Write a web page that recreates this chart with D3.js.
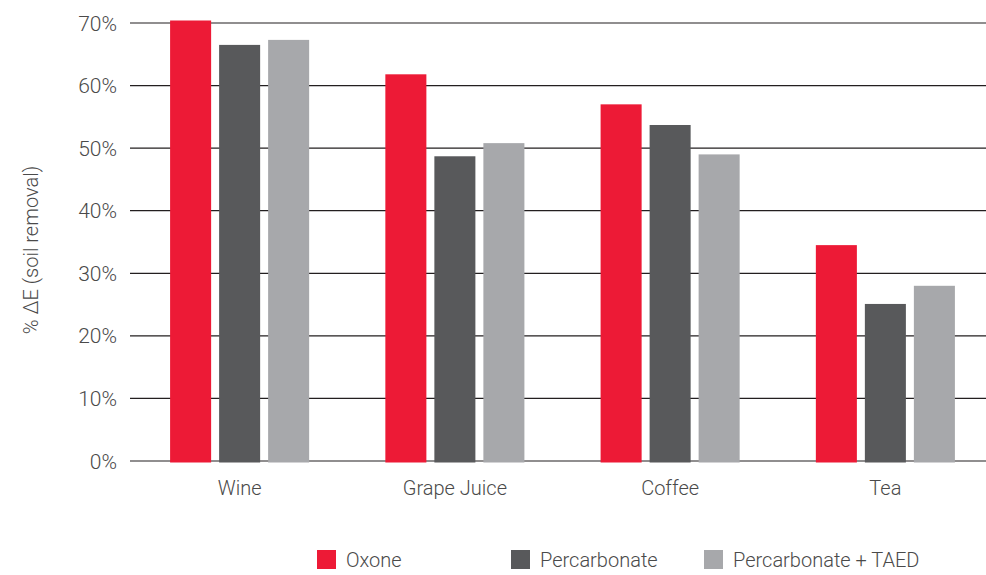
<!DOCTYPE html>
<html>
<head>
<meta charset="utf-8">
<script src="https://cdn.jsdelivr.net/npm/d3@7"></script>
<style>
  body { margin: 0; background: #fff; }
  text { font-family: Roboto, "Liberation Sans", sans-serif; font-weight: 300; fill: #4a4a4a; }
</style>
</head>
<body>
<svg id="chart" width="986" height="575"></svg>
<script>
var categories = ['Wine', 'Grape Juice', 'Coffee', 'Tea'];
var series = ['Oxone', 'Percarbonate', 'Percarbonate + TAED'];
var oxone = [70.4, 61.8, 57.0, 34.5];
var percarbonate = [66.5, 48.7, 53.7, 25.1];
var percTaed = [67.3, 50.8, 49.0, 28.0];
var yTicks = [0, 10, 20, 30, 40, 50, 60, 70];
var colors = ['#ed1a36', '#58595b', '#a7a8ab'];

var values = [oxone, percarbonate, percTaed];
var svg = d3.select('#chart');

var y = d3.scaleLinear().domain([0, 70]).range([461, 23]);
var x0 = d3.scaleBand().domain(categories).range([132, 993])
  .paddingInner(0.354).paddingOuter(0.177);
var x1 = d3.scaleBand().domain(series).range([0, x0.bandwidth()]).paddingInner(0.163);

// grid lines
svg.append('g').selectAll('line').data(yTicks).enter().append('line')
  .attr('x1', 130).attr('x2', 986)
  .attr('y1', function(d){ return y(d); }).attr('y2', function(d){ return y(d); })
  .attr('stroke', '#231f20').attr('stroke-width', 1.2);

// y tick labels
svg.append('g').selectAll('text').data(yTicks).enter().append('text')
  .attr('x', 117).attr('y', function(d){ return y(d) + 7.5; })
  .attr('text-anchor', 'end').style('font-size', '21px')
  .text(function(d){ return d + '%'; });

// bars
var groups = svg.append('g').selectAll('g').data(categories).enter().append('g')
  .attr('transform', function(d){ return 'translate(' + x0(d) + ',0)'; });
groups.selectAll('rect')
  .data(function(c, i){ return series.map(function(s, j){ return {s: s, v: values[j][i], j: j}; }); })
  .enter().append('rect')
  .attr('x', function(d){ return x1(d.s); })
  .attr('width', x1.bandwidth())
  .attr('y', function(d){ return y(d.v); })
  .attr('height', function(d){ return y(0) - y(d.v) + 1.5; })
  .attr('fill', function(d){ return colors[d.j]; });

// category labels
svg.append('g').selectAll('text').data(categories).enter().append('text')
  .attr('x', function(d){ return x0(d) + x0.bandwidth() / 2; })
  .attr('y', 495).attr('text-anchor', 'middle').style('font-size', '20px')
  .text(function(d){ return d; });

// y axis title
svg.append('text')
  .attr('transform', 'translate(38,250) rotate(-90)')
  .attr('text-anchor', 'middle').style('font-size', '20px')
  .text('% \u0394E (soil removal)');

// legend
var legendX = [317, 511, 704];
var legend = svg.append('g').selectAll('g').data(series).enter().append('g')
  .attr('transform', function(d, i){ return 'translate(' + legendX[i] + ',550)'; });
legend.append('rect').attr('width', 19).attr('height', 19)
  .attr('fill', function(d, i){ return colors[i]; });
legend.append('text').attr('x', 29).attr('y', 17).style('font-size', '20px')
  .text(function(d){ return d; });
</script>
</body>
</html>
